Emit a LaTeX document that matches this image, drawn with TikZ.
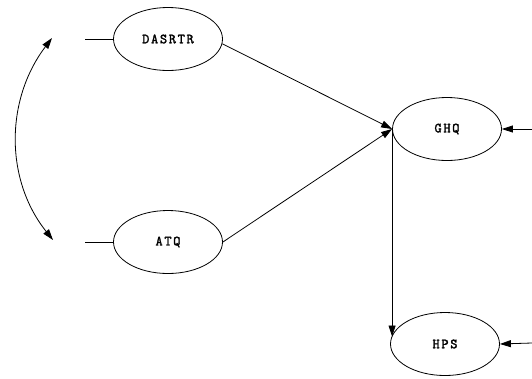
\documentclass[tikz,border=0pt]{standalone}
\usepackage{fontspec}
\newfontfamily\courfont{Latin Modern Mono}[LetterSpace=12,FakeBold=2]
\usetikzlibrary{shapes.geometric,arrows.meta}
\begin{document}
\begin{tikzpicture}[x=1pt,y=-1pt,
  var/.style={draw,ellipse,line width=0.8pt,minimum width=109pt,minimum height=63pt,inner sep=0pt,
    font=\courfont\fontsize{14}{16}\selectfont},
  conn/.style={line width=0.8pt},
  arr/.style={conn,-{Triangle[length=11pt,width=7pt]}},
  darr/.style={conn,{Triangle[length=11pt,width=7pt]}-{Triangle[length=11pt,width=7pt]}}]
\useasboundingbox (0,0) rectangle (532,378);
\node[var] (dasrtr) at (168,39) {DASRTR};
\node[var] (atq) at (168,242) {ATQ};
\node[var] (ghq) at (447,129) {GHQ};
\node[var] (hps) at (445,344) {HPS};
\coordinate (ld) at (85,39);
\coordinate (la) at (85,242);
\coordinate (ct) at (52,38);
\coordinate (cb) at (53,240);
\coordinate (rg) at (532,129);
\coordinate (rh) at (532,343);
\draw[conn] (ld) -- (dasrtr.west);
\draw[conn] (la) -- (atq.west);
\draw[darr] (ct) .. controls (5,100) and (5,180) .. (cb);
\draw[arr] (dasrtr.-5) -- (ghq.west);
\draw[arr] (atq.east) -- (ghq.west);
\draw[arr] (ghq.west) -- (ghq.west |- hps.172);
\draw[arr] (rg) -- (ghq.east);
\draw[arr] (rh) -- (hps.east);
\end{tikzpicture}
\end{document}
